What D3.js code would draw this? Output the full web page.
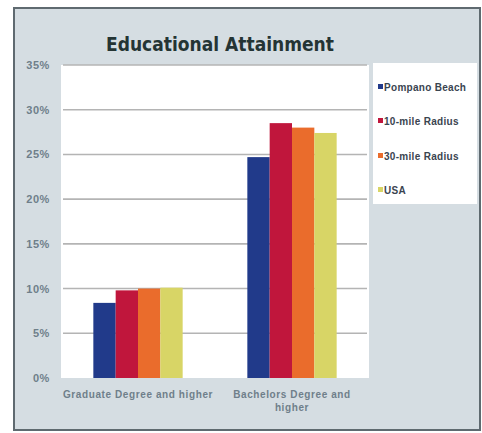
<!DOCTYPE html>
<html><head><meta charset="utf-8">
<script src="https://cdn.jsdelivr.net/npm/d3@7"></script>
<style>html,body{margin:0;padding:0;background:#fff;}svg{display:block;}</style>
</head><body>
<script>
const categories = ["Graduate Degree and higher", "Bachelors Degree and higher"];
const seriesNames = ["Pompano Beach", "10-mile Radius", "30-mile Radius", "USA"];
const pompanoBeach = [8.4, 24.7];
const tenMileRadius = [9.8, 28.5];
const thirtyMileRadius = [10.0, 28.0];
const usa = [10.1, 27.4];
const yTicks = [0, 5, 10, 15, 20, 25, 30, 35];
const colors = ["#213a8a", "#c0163c", "#ea6c2c", "#d8d566"];
const seriesValues = [pompanoBeach, tenMileRadius, thirtyMileRadius, usa];

const W = 482, H = 433;
const svg = d3.select("body").append("svg").attr("width", W).attr("height", H);

// outer frame
svg.append("rect").attr("x", 14).attr("y", 8).attr("width", 466).attr("height", 422)
  .attr("fill", "#d5dde2").attr("stroke", "#5f6a70").attr("stroke-width", 2);

const plot = {x0: 61, x1: 369, y0: 65, y1: 378};
svg.append("rect").attr("x", plot.x0).attr("y", plot.y0).attr("width", plot.x1 - plot.x0)
  .attr("height", plot.y1 - plot.y0).attr("fill", "#ffffff");

const y = d3.scaleLinear().domain([0, 35]).range([plot.y1, plot.y0]);
const x0 = d3.scaleBand().domain(categories).range([plot.x0, plot.x1]).paddingInner(0.42).paddingOuter(0.21);
const x1 = d3.scaleBand().domain(seriesNames).range([0, x0.bandwidth()]);

// gridlines
svg.append("g").selectAll("line").data(yTicks.filter(t => t > 0)).join("line")
  .attr("x1", plot.x0 + 2).attr("x2", plot.x1 - 2)
  .attr("y1", d => y(d)).attr("y2", d => y(d))
  .attr("stroke", "#b4b4b4").attr("stroke-width", 1.6);

// y axis labels
const yAxis = d3.axisLeft(y).tickValues(yTicks).tickFormat(d => d + "%").tickSize(0).tickPadding(11);
const yg = svg.append("g").attr("transform", `translate(${plot.x0},0)`).call(yAxis);
yg.select(".domain").remove();
yg.selectAll("text").attr("font-family", "Liberation Sans, Arial, sans-serif").attr("font-size", 11)
  .attr("font-weight", "bold").attr("fill", "#6f7f8a").attr("letter-spacing", 0.6);

// bars
const groups = svg.append("g").selectAll("g").data(categories).join("g")
  .attr("transform", d => `translate(${x0(d)},0)`);
groups.selectAll("rect").data((d, i) => seriesNames.map((s, j) => ({s, v: seriesValues[j][i], j})))
  .join("rect")
  .attr("x", d => x1(d.s)).attr("width", x1.bandwidth())
  .attr("y", d => y(d.v)).attr("height", d => y(0) - y(d.v))
  .attr("fill", d => colors[d.j]);

// x labels
const xLabelLines = [["Graduate Degree and higher"], ["Bachelors Degree and", "higher"]];
categories.forEach((c, i) => {
  const t = svg.append("text").attr("x", x0(c) + x0.bandwidth() / 2).attr("y", 398)
    .attr("text-anchor", "middle").attr("font-family", "Liberation Sans, Arial, sans-serif")
    .attr("font-size", 10).attr("font-weight", "bold").attr("fill", "#6f7f8a").attr("letter-spacing", 0.6);
  xLabelLines[i].forEach((ln, k) => {
    t.append("tspan").attr("x", x0(c) + x0.bandwidth() / 2).attr("dy", k === 0 ? 0 : 13).text(ln);
  });
});

// title
svg.append("text").attr("x", 220).attr("y", 51).attr("text-anchor", "middle")
  .attr("font-family", "DejaVu Sans Condensed, DejaVu Sans, sans-serif").attr("font-weight", "bold")
  .attr("font-size", 19).attr("fill", "#243434").text("Educational Attainment");

// legend
svg.append("rect").attr("x", 373).attr("y", 63).attr("width", 104).attr("height", 141).attr("fill", "#ffffff");
const legY = [87, 121, 156, 190];
const lg = svg.append("g").selectAll("g").data(seriesNames).join("g")
  .attr("transform", (d, i) => `translate(378,${legY[i]})`);
lg.append("rect").attr("x", 0).attr("y", -3).attr("width", 5).attr("height", 5).attr("fill", (d, i) => colors[i]);
lg.append("text").attr("x", 6).attr("y", 3.5).attr("font-family", "Liberation Sans, Arial, sans-serif")
  .attr("font-size", 10).attr("font-weight", "bold").attr("letter-spacing", 0.3)
  .attr("fill", "#3a4450").text(d => d);
</script>
</body></html>
